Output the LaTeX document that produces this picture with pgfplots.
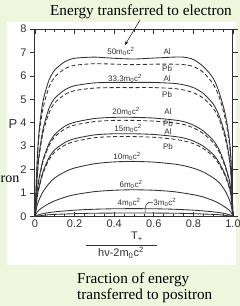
\documentclass[border=0pt]{standalone}
\usepackage{fontspec}
\setmainfont{Liberation Serif}
\setsansfont{Liberation Sans}
\usepackage{pgfplots}
\pgfplotsset{compat=1.18}
\usetikzlibrary{arrows.meta}
\definecolor{bgg}{RGB}{238,247,222}
\definecolor{ink}{RGB}{50,50,50}
\newcommand{\mc}{m\textsubscript{0}c\textsuperscript{2}}
\begin{document}
\begin{tikzpicture}[x=1pt,y=1pt]
\useasboundingbox (0,0) rectangle (240,306);
\fill[bgg] (0,0) rectangle (240,306);
\fill[white] (7,41) rectangle (236,284);
\begin{axis}[
  at={(35pt,89.5pt)}, anchor=south west,
  scale only axis, width=198pt, height=187.5pt,
  xmin=0, xmax=1, ymin=0, ymax=8,
  xtick={0,0.2,0.4,0.6,0.8,1.0},
  xticklabels={0,0.2,0.4,0.6,0.8,1.0},
  minor x tick num=3,
  ytick={0,1,2,3,4,5,6,7,8},
  xtick pos=both, ytick pos=both,
  xtick align=inside, ytick align=outside,
  major tick length=5pt, minor tick length=3pt,
  axis line style={ink, line width=1pt},
  tick style={ink, line width=0.7pt},
  /pgf/number format/assume math mode=true,
  ticklabel style={font=\sffamily\fontsize{11}{11}\selectfont, text=ink},
  cur/.style={ink, line width=0.85pt, smooth, tension=0.45, mark=none},
  dsh/.style={cur, dash pattern=on 4pt off 2.5pt},
  clip=false,
]
% 50 Al
\addplot[cur] coordinates {(0,0)(0.01,2.2)(0.02,3.6)(0.04,4.9)(0.07,5.8)(0.1,6.25)(0.15,6.6)(0.2,6.75)(0.3,6.8)(0.4,6.75)(0.5,6.72)(0.6,6.76)(0.7,6.8)(0.75,6.8)(0.8,6.7)(0.85,6.4)(0.9,5.9)(0.93,5.3)(0.96,4.4)(0.98,3.4)(0.99,2.4)(1,0)};
% 50 Pb
\addplot[dsh] coordinates {(0,0)(0.01,2.1)(0.02,3.4)(0.04,4.6)(0.07,5.5)(0.1,5.95)(0.15,6.3)(0.2,6.45)(0.3,6.52)(0.4,6.5)(0.5,6.48)(0.6,6.5)(0.7,6.5)(0.75,6.48)(0.8,6.4)(0.85,6.15)(0.9,5.65)(0.93,5.1)(0.96,4.2)(0.98,3.2)(0.99,2.3)(1,0)};
% 33.3 Al
\addplot[cur] coordinates {(0,0)(0.01,1.6)(0.02,2.6)(0.04,3.7)(0.07,4.6)(0.1,5.05)(0.15,5.4)(0.2,5.58)(0.3,5.7)(0.4,5.72)(0.5,5.72)(0.6,5.72)(0.7,5.68)(0.75,5.62)(0.8,5.5)(0.85,5.25)(0.9,4.8)(0.93,4.3)(0.96,3.5)(0.98,2.6)(0.99,1.8)(1,0)};
% 33.3 Pb
\addplot[dsh] coordinates {(0,0)(0.01,1.5)(0.02,2.5)(0.04,3.55)(0.07,4.4)(0.1,4.85)(0.15,5.2)(0.2,5.37)(0.3,5.48)(0.4,5.5)(0.5,5.5)(0.6,5.5)(0.7,5.46)(0.75,5.4)(0.8,5.28)(0.85,5.05)(0.9,4.62)(0.93,4.15)(0.96,3.37)(0.98,2.5)(0.99,1.73)(1,0)};
% 20 Al
\addplot[cur] coordinates {(0,0)(0.01,1.0)(0.02,1.6)(0.04,2.4)(0.07,3.1)(0.1,3.5)(0.15,3.85)(0.2,4.02)(0.3,4.18)(0.4,4.23)(0.5,4.23)(0.6,4.2)(0.7,4.12)(0.75,4.05)(0.8,3.9)(0.85,3.65)(0.9,3.25)(0.93,2.85)(0.96,2.2)(0.98,1.6)(0.99,1.1)(1,0)};
% 20 Pb
\addplot[dsh] coordinates {(0,0)(0.01,0.97)(0.02,1.55)(0.04,2.33)(0.07,3.0)(0.1,3.4)(0.15,3.73)(0.2,3.9)(0.3,4.05)(0.4,4.1)(0.5,4.1)(0.6,4.07)(0.7,4.0)(0.75,3.93)(0.8,3.78)(0.85,3.54)(0.9,3.15)(0.93,2.76)(0.96,2.13)(0.98,1.55)(0.99,1.07)(1,0)};
% 15 Al
\addplot[cur] coordinates {(0,0)(0.01,0.8)(0.02,1.25)(0.04,1.9)(0.07,2.5)(0.1,2.85)(0.15,3.15)(0.2,3.32)(0.3,3.48)(0.4,3.53)(0.5,3.53)(0.6,3.5)(0.7,3.42)(0.75,3.35)(0.8,3.22)(0.85,3.0)(0.9,2.65)(0.93,2.3)(0.96,1.8)(0.98,1.3)(0.99,0.9)(1,0)};
% 15 Pb
\addplot[dsh] coordinates {(0,0)(0.01,0.77)(0.02,1.2)(0.04,1.83)(0.07,2.41)(0.1,2.75)(0.15,3.04)(0.2,3.2)(0.3,3.36)(0.4,3.41)(0.5,3.41)(0.6,3.38)(0.7,3.3)(0.75,3.23)(0.8,3.11)(0.85,2.9)(0.9,2.56)(0.93,2.22)(0.96,1.74)(0.98,1.25)(0.99,0.87)(1,0)};
% 10
\addplot[cur] coordinates {(0,0)(0.01,0.45)(0.02,0.7)(0.04,1.05)(0.07,1.4)(0.1,1.65)(0.15,1.9)(0.2,2.07)(0.3,2.25)(0.4,2.33)(0.5,2.35)(0.6,2.32)(0.7,2.24)(0.75,2.17)(0.8,2.06)(0.85,1.9)(0.9,1.65)(0.93,1.45)(0.96,1.1)(0.98,0.75)(0.99,0.5)(1,0)};
% 6
\addplot[cur] coordinates {(0,0)(0.01,0.18)(0.02,0.27)(0.04,0.4)(0.07,0.55)(0.1,0.67)(0.15,0.82)(0.2,0.93)(0.3,1.06)(0.4,1.12)(0.5,1.14)(0.6,1.12)(0.7,1.06)(0.8,0.93)(0.85,0.83)(0.9,0.68)(0.93,0.56)(0.96,0.4)(0.98,0.28)(0.99,0.18)(1,0)};
% 4
\addplot[cur] coordinates {(0,0)(0.02,0.08)(0.05,0.14)(0.1,0.2)(0.2,0.27)(0.3,0.31)(0.4,0.33)(0.5,0.335)(0.6,0.33)(0.7,0.31)(0.8,0.27)(0.9,0.2)(0.95,0.14)(0.98,0.08)(1,0)};
% 3
\addplot[cur] coordinates {(0,0)(0.05,0.06)(0.1,0.09)(0.2,0.12)(0.3,0.14)(0.5,0.15)(0.7,0.14)(0.8,0.12)(0.9,0.09)(0.95,0.06)(1,0)};
% labels
\begin{scope}[every node/.style={font=\sffamily\fontsize{8}{8}\selectfont, text=ink, inner sep=0pt}]
\node at (axis cs:0.434,7.03) {50\mc};
\node at (axis cs:0.667,7.03) {Al};
\node at (axis cs:0.667,6.32) {Pb};
\node at (axis cs:0.455,5.88) {33.3\mc};
\node at (axis cs:0.667,5.88) {Al};
\node at (axis cs:0.667,5.2) {Pb};
\node at (axis cs:0.46,4.47) {20\mc};
\node at (axis cs:0.672,4.47) {Al};
\node at (axis cs:0.672,3.95) {Pb};
\node at (axis cs:0.47,3.76) {15\mc};
\node at (axis cs:0.672,3.63) {Al};
\node at (axis cs:0.672,2.97) {Pb};
\node at (axis cs:0.465,2.56) {10\mc};
\node at (axis cs:0.485,1.36) {6\mc};
\node at (axis cs:0.475,0.6) {4\mc};
\node[anchor=west] at (axis cs:0.597,0.6) {3\mc};
\end{scope}
\draw[ink, line width=0.6pt] (axis cs:0.597,0.6) -- (axis cs:0.575,0.6) to[out=200,in=90] (axis cs:0.556,0.16);
\end{axis}
% axis label P
\node[font=\sffamily\fontsize{13}{13}\selectfont, text=ink] at (13,182) {P};
% x label fraction
\node[font=\sffamily\fontsize{11}{11}\selectfont, text=ink] at (137,69) {T\textsubscript{+}};
\draw[ink, line width=0.8pt] (86,61) -- (157,61);
\node[font=\sffamily\fontsize{11}{11}\selectfont, text=ink] at (121,53) {hν-2\mc};
% slide texts
\node[anchor=base west, font=\fontsize{15.2}{16}\selectfont, inner sep=0pt] at (50,290) {Energy transferred to electron};
\draw[-{Stealth[length=4pt]}, line width=0.5pt] (140,286) -- (125,261);
\node[anchor=base west, font=\fontsize{15.2}{16}\selectfont, inner sep=0pt] at (77,23) {Fraction of energy};
\node[anchor=base west, font=\fontsize{15.2}{16}\selectfont, inner sep=0pt] at (77,6) {transferred to positron};
\node[anchor=base west, font=\fontsize{14}{15}\selectfont, inner sep=0pt] at (0.5,124) {ron};
\end{tikzpicture}
\end{document}
